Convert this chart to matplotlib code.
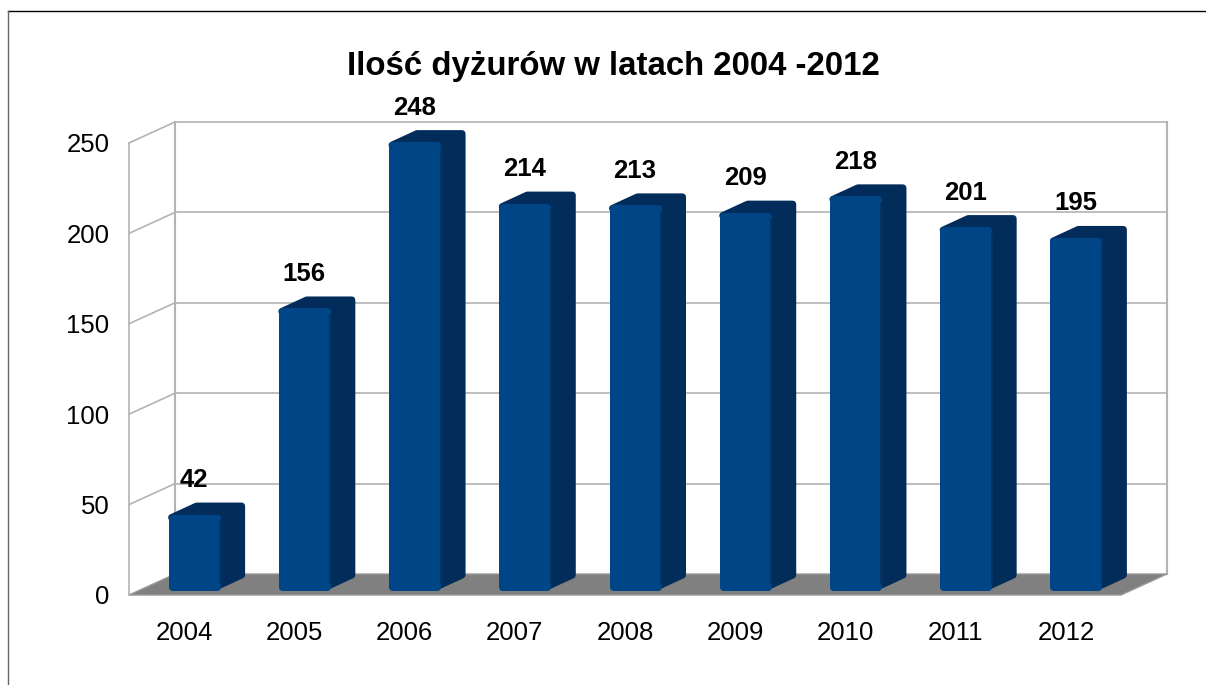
import matplotlib
matplotlib.use("Agg")
import matplotlib.pyplot as plt
from matplotlib.lines import Line2D
from matplotlib.patches import Polygon

plt.rcParams['font.family'] = ['Liberation Sans', 'DejaVu Sans']

years = ["2004", "2005", "2006", "2007", "2008", "2009", "2010", "2011", "2012"]
dyzury = [42, 156, 248, 214, 213, 209, 218, 201, 195]
y_ticks = [0, 50, 100, 150, 200, 250]
title = "Ilość dyżurów w latach 2004 -2012"

W, H = 1206, 685
fig = plt.figure(figsize=(W / 100, H / 100), dpi=100)
ax = fig.add_axes([129 / W, (H - 595) / H, 992 / W, 452 / H])
ax.set_xlim(-0.5, len(years) - 0.5)
ax.set_ylim(0, 250)

# glebokosc "3D" w jednostkach danych
px_x = (len(years)) / 992
px_y = 250 / 452
wall_dx, wall_dy = 46 * px_x, 21 * px_y
bar_w = 52 * px_x
bar_off_x, bar_off_y = 10 * px_x, 5 * px_y
bar_dx, bar_dy = 25 * px_x, 11.5 * px_y
# zaokraglenie rogow: obrys o grubosci 2*r
r_px = 3.5
lw_round = 2 * r_px * 72 / 100
in_x, in_y = r_px * px_x, r_px * px_y

x0, x1 = ax.get_xlim()
grid_c = "#b3b3b3"

# sciany i siatka
for t in y_ticks[1:]:
    ax.plot([x0 + wall_dx, x1 + wall_dx], [t + wall_dy] * 2, color=grid_c, lw=1.2, clip_on=False, zorder=1)
for t in y_ticks[1:]:
    ax.plot([x0, x0 + wall_dx], [t, t + wall_dy], color=grid_c, lw=1.2, clip_on=False, zorder=1)
ax.plot([x0, x0], [0, 250], color=grid_c, lw=1.2, clip_on=False, zorder=1)
ax.plot([x0 + wall_dx] * 2, [wall_dy, 250 + wall_dy], color=grid_c, lw=1.5, clip_on=False, zorder=1)
ax.plot([x1 + wall_dx] * 2, [wall_dy, 250 + wall_dy], color=grid_c, lw=1.5, clip_on=False, zorder=1)

# podloga
ax.add_patch(Polygon([(x0, 0), (x1, 0), (x1 + wall_dx, wall_dy), (x0 + wall_dx, wall_dy)],
                     closed=True, facecolor="#808080", edgecolor="#999999", lw=1, clip_on=False, zorder=2))

# slupki
front_c = "#004586"
side_c = "#022c59"
for i, v in enumerate(dyzury):
    l = i + bar_off_x - bar_w / 2
    r = l + bar_w
    b = bar_off_y
    t = v + bar_off_y
    ax.add_patch(Polygon([(r - in_x, b + in_y), (r + bar_dx - in_x, b + bar_dy + in_y),
                          (r + bar_dx - in_x, t + bar_dy - in_y), (l + bar_dx + in_x, t + bar_dy - in_y),
                          (l + in_x, t - in_y), (r - in_x, t - in_y)],
                         closed=True, facecolor=side_c, edgecolor=side_c, lw=lw_round, joinstyle="round",
                         clip_on=False, zorder=3))
    ax.add_patch(Polygon([(l + in_x, b + in_y), (r - in_x, b + in_y), (r - in_x, t - in_y), (l + in_x, t - in_y)],
                         closed=True, facecolor=front_c, edgecolor=front_c, lw=lw_round, joinstyle="round",
                         clip_on=False, zorder=4))
    # ciemniejszy szew miedzy przodem a bokiem
    ax.plot([r, r], [b + 2 * in_y, t - 2 * in_y], color="#013468", lw=1.5, clip_on=False, zorder=4.5)
    ax.annotate(str(v), (i + bar_off_x, t), xytext=(0, 24.5), textcoords="offset points",
                ha="center", va="center", fontsize=18.5, fontweight="bold", color="black",
                annotation_clip=False, zorder=5)

# osie
ax.set_xticks(range(len(years)))
ax.set_xticklabels(years, fontsize=18.5)
ax.set_yticks(y_ticks)
ax.tick_params(axis="y", length=0, pad=14, labelsize=18.5)
ax.tick_params(axis="x", length=0, pad=19)
for s in ax.spines.values():
    s.set_visible(False)
ax.patch.set_alpha(0)

fig.text(613 / W, 1 - 66 / H, title, ha="center", va="center", fontsize=23.8, fontweight="bold")

# ramka obrazka
fig.add_artist(Line2D([8 / W, 1], [1 - 11 / H, 1 - 11 / H], color="black", lw=1))
fig.add_artist(Line2D([8 / W, 8 / W], [0, 1 - 11 / H], color="#666666", lw=1))

fig.savefig("out.png", dpi=100)
